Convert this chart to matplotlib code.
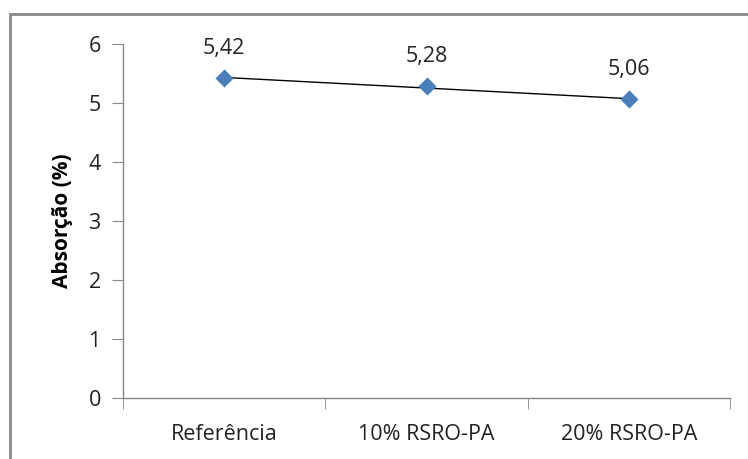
import numpy as np
import matplotlib
matplotlib.use("Agg")
import matplotlib.pyplot as plt
from matplotlib.patches import Rectangle

categories = ["Referência", "10% RSRO-PA", "20% RSRO-PA"]
values = [5.42, 5.28, 5.06]
yticks = [0, 1, 2, 3, 4, 5, 6]
ylabel = "Absorção (%)"

plt.rcParams['font.family'] = ['Open Sans', 'DejaVu Sans']

W, H = 748, 459
fig = plt.figure(figsize=(W/100, H/100), dpi=100)
ax = fig.add_axes([123/W, 1-398/H, (730-123)/W, (398-44)/H])

x = np.arange(len(categories))
# linear trendline
coef = np.polyfit(x, values, 1)
ax.plot(x, np.polyval(coef, x), color='black', lw=1.0, zorder=2)
ax.scatter(x, values, marker='D', s=85, color='#4a7ebb', zorder=3, linewidths=0)

for xi, v in zip(x, values):
    ax.annotate(f"{v:.2f}".replace('.', ','), (xi, v), xytext=(0, 14),
                textcoords='offset points', ha='center', va='bottom',
                fontsize=15.5, color='#222222')

ax.set_xlim(-0.5, len(categories)-0.5)
ax.set_ylim(0, 6)
ax.set_yticks(yticks)
ax.set_yticklabels([str(t) for t in yticks], fontsize=15.5, color='#222222')
ax.set_xticks(x)
ax.set_xticklabels(categories, fontsize=15.5, color='#222222')
ax.set_xticks(np.arange(len(categories)+1)-0.5, minor=True)
ax.tick_params(axis='x', which='major', length=0, pad=19)
ax.tick_params(axis='x', which='minor', length=8, color='#868686', direction='out')
ax.tick_params(axis='y', length=8, color='#868686', direction='out', pad=8)
for s in ['top', 'right']:
    ax.spines[s].set_visible(False)
for s in ['left', 'bottom']:
    ax.spines[s].set_color('#868686')
    ax.spines[s].set_linewidth(1.0)
ax.set_ylabel(ylabel, fontsize=15, fontweight='bold')
ax.yaxis.set_label_coords(-0.082, 0.5)

fig.patches.append(Rectangle((10/W, -0.05), 1.1, 1-14/H+0.05, transform=fig.transFigure,
                             fill=False, edgecolor='#898989', lw=2))

fig.savefig("out.png", dpi=100)
